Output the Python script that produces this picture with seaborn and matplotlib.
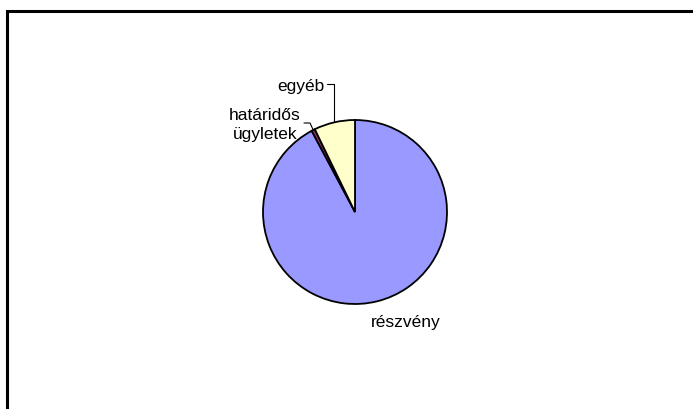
import numpy as np
import matplotlib
matplotlib.use("Agg")
import matplotlib.pyplot as plt
from matplotlib.patches import Rectangle
import seaborn as sns

# adatok (%)
categories = ["részvény", "határidős\nügyletek", "egyéb"]
shares = [92.2, 0.6, 7.2]
colors = ["#9999FF", "#993366", "#FFFFCC"]

sns.set_style("white")
plt.rcParams["font.family"] = ["Liberation Sans", "DejaVu Sans"]
plt.rcParams["text.color"] = "black"

fig = plt.figure(figsize=(6.93, 4.09), dpi=100)
W, H = 693, 409
cx, cy, r = 355, 212, 92
ax = fig.add_axes([(cx - r) / W, (H - cy - r) / H, 2 * r / W, 2 * r / H])

wedges, _ = ax.pie(shares, colors=colors, startangle=90, counterclock=False,
                   wedgeprops=dict(edgecolor="black", linewidth=1.3))
ax.set_xlim(-1, 1)
ax.set_ylim(-1, 1)
ax.set_aspect("equal")
ax.axis("off")


def mid_point(w):
    ang = np.deg2rad((w.theta1 + w.theta2) / 2)
    return np.cos(ang), np.sin(ang)


def px(x, y):
    return (x - cx) / r, (cy - y) / r


fs = 12.5

# egyéb címke + vezetővonal
ex, ey = mid_point(wedges[2])
tx, ty = px(325, 86)
ax.text(tx, ty, categories[2], ha="right", va="center", fontsize=fs, clip_on=False)
ax.plot([tx + 0.02, ex, ex], [ty + 0.02, ty + 0.02, ey], color="black", lw=0.8, clip_on=False)

# határidős ügyletek címke + vezetővonal
hx, hy = mid_point(wedges[1])
tx, ty = px(265, 125)
ax.text(tx, ty, categories[1], ha="center", va="center", fontsize=fs,
        linespacing=1.25, clip_on=False)
sx, sy = px(304, 123)
bx, by = px(310, 123)
ax.plot([sx, bx, hx], [sy, by, hy], color="black", lw=0.8, clip_on=False)

# részvény címke
tx, ty = px(406, 323)
ax.text(tx, ty, categories[0], ha="center", va="center", fontsize=fs, clip_on=False)

# keret
fig.patches.append(Rectangle((6.5 / W, -0.1), 1.2, 1.1 - 11.5 / H, transform=fig.transFigure,
                             fill=False, edgecolor="black", linewidth=2.2))

fig.savefig("out.png", dpi=100, facecolor="white")
